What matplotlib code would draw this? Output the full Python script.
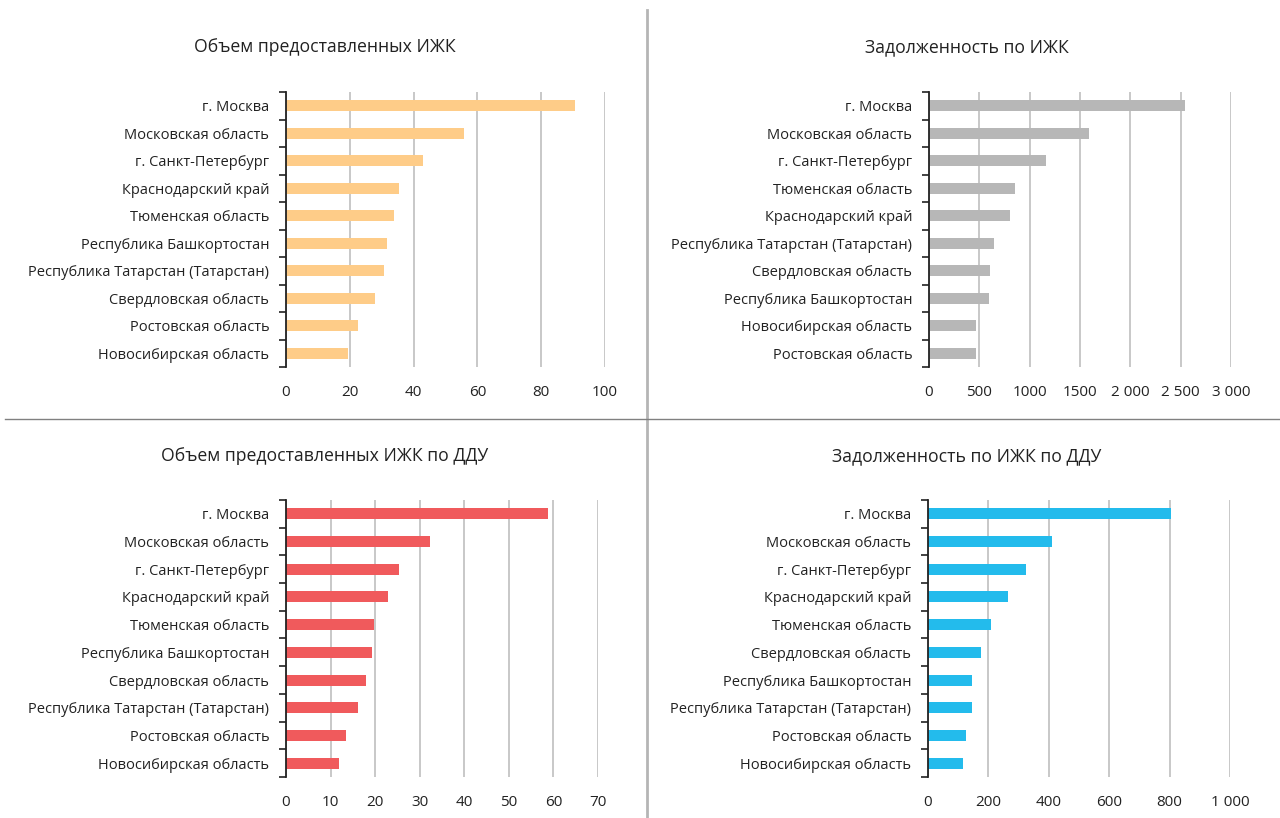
import matplotlib
matplotlib.use("Agg")
import matplotlib.pyplot as plt
from matplotlib.lines import Line2D
import numpy as np

plt.rcParams['font.family'] = ['Open Sans', 'DejaVu Sans']

# Объем предоставленных ИЖК
reg_1 = ["г. Москва", "Московская область", "г. Санкт-Петербург", "Краснодарский край",
         "Тюменская область", "Республика Башкортостан", "Республика Татарстан (Татарстан)",
         "Свердловская область", "Ростовская область", "Новосибирская область"]
val_1 = [90.6, 55.9, 42.8, 35.4, 33.9, 31.6, 30.6, 27.9, 22.5, 19.4]

# Задолженность по ИЖК
reg_2 = ["г. Москва", "Московская область", "г. Санкт-Петербург", "Тюменская область",
         "Краснодарский край", "Республика Татарстан (Татарстан)", "Свердловская область",
         "Республика Башкортостан", "Новосибирская область", "Ростовская область"]
val_2 = [2540, 1586, 1166, 851, 801, 642, 606, 596, 464, 464]

# Объем предоставленных ИЖК по ДДУ
reg_3 = ["г. Москва", "Московская область", "г. Санкт-Петербург", "Краснодарский край",
         "Тюменская область", "Республика Башкортостан", "Свердловская область",
         "Республика Татарстан (Татарстан)", "Ростовская область", "Новосибирская область"]
val_3 = [58.8, 32.4, 25.4, 22.8, 19.8, 19.4, 17.9, 16.1, 13.4, 12.0]

# Задолженность по ИЖК по ДДУ
reg_4 = ["г. Москва", "Московская область", "г. Санкт-Петербург", "Краснодарский край",
         "Тюменская область", "Свердловская область", "Республика Башкортостан",
         "Республика Татарстан (Татарстан)", "Ростовская область", "Новосибирская область"]
val_4 = [805, 409, 325, 264, 210, 175, 147, 147, 127, 117]

titles = ["Объем предоставленных ИЖК", "Задолженность по ИЖК",
          "Объем предоставленных ИЖК по ДДУ", "Задолженность по ИЖК по ДДУ"]
colors = ["#FECC88", "#B7B7B7", "#F05A5C", "#23BBEC"]
xticks = [[0, 20, 40, 60, 80, 100],
          [0, 500, 1000, 1500, 2000, 2500, 3000],
          [0, 10, 20, 30, 40, 50, 60, 70],
          [0, 200, 400, 600, 800, 1000]]
xlabels = [["0", "20", "40", "60", "80", "100"],
           ["0", "500", "1000", "1500", "2 000", "2 500", "3 000"],
           ["0", "10", "20", "30", "40", "50", "60", "70"],
           ["0", "200", "400", "600", "800", "1 000"]]

W, H = 1280, 818
fig = plt.figure(figsize=(W / 100, H / 100), dpi=100)

# axes boxes in pixels: left, top, right, bottom
boxes = [(286, 92, 605, 367), (929, 92, 1231, 367),
         (286, 500, 598, 777), (928, 500, 1230, 777)]
title_pos = [(325, 47), (967, 47), (325, 456), (967, 456)]

data = [(reg_1, val_1), (reg_2, val_2), (reg_3, val_3), (reg_4, val_4)]

for i, (regs, vals) in enumerate(data):
    l, t, r, b = boxes[i]
    ax = fig.add_axes([l / W, 1 - b / H, (r - l) / W, (b - t) / H])
    y = np.arange(len(regs))
    ax.barh(y, vals, height=0.4, color=colors[i], zorder=3)
    ax.set_ylim(len(regs) - 0.5, -0.5)
    ax.set_xlim(0, xticks[i][-1])
    ax.set_yticks(y)
    ax.set_yticklabels(regs, fontsize=10.5, color="#222222")
    ax.set_yticks(np.arange(-0.5, len(regs), 1), minor=True)
    ax.tick_params(axis='y', which='major', length=0, pad=12)
    ax.tick_params(axis='y', which='minor', length=5, width=1.2, color="#222222", direction='out')
    ax.set_xticks(xticks[i])
    ax.set_xticklabels(xlabels[i], fontsize=11, color="#222222")
    ax.tick_params(axis='x', length=0, pad=13)
    ax.xaxis.grid(True, color="#C4C4C4", linewidth=1.3, zorder=0)
    ax.set_axisbelow(True)
    for s in ["top", "right", "bottom"]:
        ax.spines[s].set_visible(False)
    ax.spines["left"].set_color("#222222")
    ax.spines["left"].set_linewidth(1.3)
    ax.spines["left"].set_zorder(4)
    tx, ty = title_pos[i]
    fig.text(tx / W, 1 - ty / H, titles[i], ha='center', va='center',
             fontsize=12.7, color="#222222")

# dividers
fig.add_artist(Line2D([647 / W, 647 / W], [1 - 10 / H, 0], color="#B5B5B5", linewidth=2))
fig.add_artist(Line2D([5 / W, 1], [1 - 419 / H, 1 - 419 / H], color="#808080", linewidth=1))

fig.savefig("out.png", dpi=100)
